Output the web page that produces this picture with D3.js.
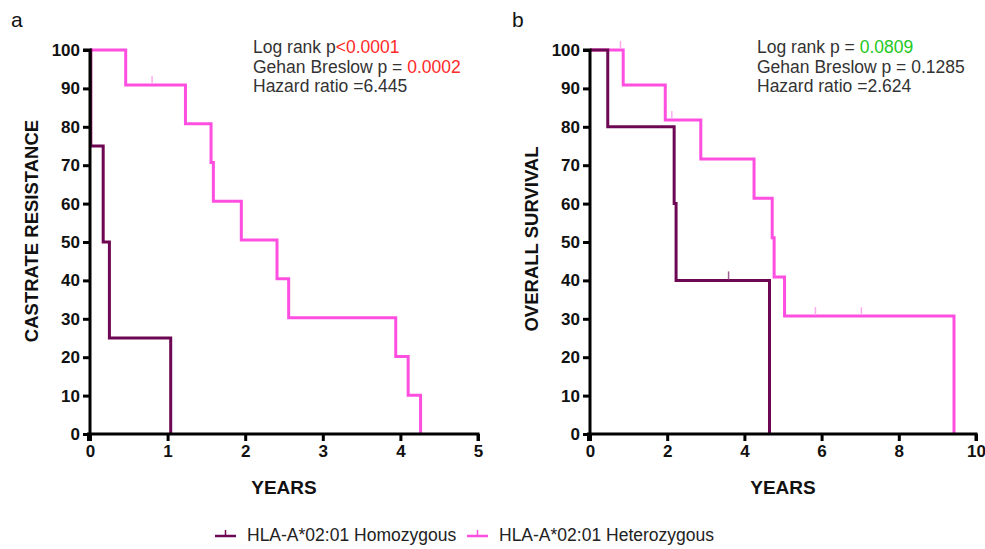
<!DOCTYPE html>
<html>
<head>
<meta charset="utf-8">
<script src="https://cdn.jsdelivr.net/npm/d3@7"></script>
<style>
  html, body { margin: 0; padding: 0; background: #fff; }
  svg { display: block; font-family: "Liberation Sans", Arial, sans-serif; }
</style>
</head>
<body>
<svg id="chart" width="985" height="549"></svg>
<script>
// ---------- DATA ----------
const seriesNames = ["HLA-A*02:01 Homozygous", "HLA-A*02:01 Heterozygous"];
const yTicks = [0, 10, 20, 30, 40, 50, 60, 70, 80, 90, 100];
const xTicksA = [0, 1, 2, 3, 4, 5];
const xTicksB = [0, 2, 4, 6, 8, 10];

// Panel a: castrate resistance
const aHomTimes = [0, 0.01, 0.17, 0.25, 1.04];
const aHomSurv  = [100, 75, 50, 25, 0];
const aHomCensor = [];
const aHetTimes = [0, 0.46, 1.23, 1.56, 1.59, 1.95, 2.41, 2.56, 3.94, 4.10, 4.26];
const aHetSurv  = [100, 90.9, 80.8, 70.7, 60.6, 50.5, 40.4, 30.3, 20.2, 10.1, 0];
const aHetCensor = [0.80];

// Panel b: overall survival
const bHomTimes = [0, 0.46, 2.18, 2.23, 4.65];
const bHomSurv  = [100, 80, 60, 40, 0];
const bHomCensor = [3.59];
const bHetTimes = [0, 0.86, 1.95, 2.87, 4.25, 4.72, 4.77, 5.04, 9.43];
const bHetSurv  = [100, 90.9, 81.8, 71.6, 61.4, 51.1, 40.9, 30.7, 0];
const bHetCensor = [0.79, 2.12, 5.84, 7.03];

const statsA = [
  [["Log rank p", "#333"], ["<0.0001", "#ff2a2a"]],
  [["Gehan Breslow p = ", "#333"], ["0.0002", "#ff2a2a"]],
  [["Hazard ratio =6.445", "#333"]]
];
const statsB = [
  [["Log rank p = ", "#333"], ["0.0809", "#22c822"]],
  [["Gehan Breslow p = 0.1285", "#333"]],
  [["Hazard ratio =2.624", "#333"]]
];

// ---------- STYLE ----------
const colHom = "#6e0753";
const colHet = "#ff4fe0";
const colHomCens = "#a0608f";
const colHetCens = "#ffaaf0";

const svg = d3.select("#chart");

function survAt(times, surv, t) {
  let s = surv[0];
  for (let i = 0; i < times.length; i++) { if (times[i] <= t) s = surv[i]; }
  return s;
}

function panel(opt) {
  const x = d3.scaleLinear().domain([0, opt.xMax]).range([opt.x0, opt.x1]);
  const y = d3.scaleLinear().domain([0, 100]).range([434, 50]);
  const g = svg.append("g");

  // curves
  const line = d3.line().x(d => x(d[0])).y(d => y(d[1])).curve(d3.curveStepAfter);
  opt.series.forEach(s => {
    const pts = s.times.map((t, i) => [t, s.surv[i]]);
    g.append("path").attr("d", line(pts)).attr("fill", "none")
      .attr("stroke", s.color).attr("stroke-width", 3).attr("stroke-linejoin", "miter");
    s.censor.forEach(t => {
      const v = survAt(s.times, s.surv, t);
      g.append("line").attr("x1", x(t)).attr("x2", x(t))
        .attr("y1", y(v) - 1).attr("y2", y(v) - 9)
        .attr("stroke", s.censColor).attr("stroke-width", 1.5);
    });
  });

  // axes
  const yAxis = g.append("g").attr("transform", `translate(${opt.x0},0)`)
    .call(d3.axisLeft(y).tickValues(yTicks).tickSize(7).tickPadding(3).tickFormat(d3.format("d")));
  const xAxis = g.append("g").attr("transform", "translate(0,434)")
    .call(d3.axisBottom(x).tickValues(opt.xTicks).tickSize(7).tickPadding(4).tickFormat(d3.format("d")));
  [yAxis, xAxis].forEach(a => {
    a.select(".domain").attr("stroke", "#000").attr("stroke-width", 3);
    a.selectAll(".tick line").attr("stroke", "#000").attr("stroke-width", 3);
    a.selectAll(".tick text").attr("fill", "#111").attr("font-size", 17).attr("font-weight", "bold")
      .attr("font-family", "Liberation Sans, Arial, sans-serif");
  });
  yAxis.select(".domain").attr("d", `M-7,${y(100)}H0V${y(0) + 1.5}`);
  xAxis.select(".domain").attr("d", `M${opt.x0 - 1.5},7V0H${opt.x1}V7`);

  // labels
  g.append("text").attr("x", (opt.x0 + opt.x1) / 2).attr("y", 494)
    .attr("text-anchor", "middle").attr("font-size", 19).attr("font-weight", "bold").attr("fill", "#111")
    .text("YEARS");
  g.append("text").attr("transform", `translate(${opt.yLabX},${opt.yLabY}) rotate(-90)`)
    .attr("text-anchor", "middle").attr("dominant-baseline", "central")
    .attr("font-size", 18.5).attr("font-weight", "bold").attr("fill", "#111")
    .text(opt.yLabel);
  g.append("text").attr("x", opt.letterX).attr("y", 27).attr("font-size", 21).attr("fill", "#111")
    .text(opt.letter);

  // stats
  opt.stats.forEach((row, i) => {
    const t = g.append("text").attr("x", opt.statX).attr("y", 53 + i * 19.5)
      .attr("font-size", 17.5).attr("fill", "#333");
    row.forEach(p => t.append("tspan").attr("fill", p[1]).text(p[0]));
  });
}

panel({
  xMax: 5, x0: 90, x1: 478, xTicks: xTicksA, letter: "a", letterX: 11,
  yLabel: "CASTRATE RESISTANCE", yLabX: 31, yLabY: 231, statX: 253, stats: statsA,
  series: [
    { times: aHetTimes, surv: aHetSurv, censor: aHetCensor, color: colHet, censColor: colHetCens },
    { times: aHomTimes, surv: aHomSurv, censor: aHomCensor, color: colHom, censColor: colHomCens }
  ]
});
panel({
  xMax: 10, x0: 590, x1: 976, xTicks: xTicksB, letter: "b", letterX: 512,
  yLabel: "OVERALL SURVIVAL", yLabX: 531, yLabY: 239, statX: 757, stats: statsB,
  series: [
    { times: bHetTimes, surv: bHetSurv, censor: bHetCensor, color: colHet, censColor: colHetCens },
    { times: bHomTimes, surv: bHomSurv, censor: bHomCensor, color: colHom, censColor: colHomCens }
  ]
});

// legend
const legend = svg.append("g");
const legendItems = [
  { name: seriesNames[0], color: colHom, x: 215 },
  { name: seriesNames[1], color: colHet, x: 467 }
];
legendItems.forEach(it => {
  legend.append("line").attr("x1", it.x).attr("x2", it.x + 21).attr("y1", 536).attr("y2", 536)
    .attr("stroke", it.color).attr("stroke-width", 2.5);
  legend.append("line").attr("x1", it.x + 10.5).attr("x2", it.x + 10.5).attr("y1", 536).attr("y2", 530)
    .attr("stroke", it.color).attr("stroke-width", 1.5);
  legend.append("text").attr("x", it.x + 32).attr("y", 541).attr("font-size", 17.5).attr("fill", "#222")
    .text(it.name);
});
</script>
</body>
</html>
